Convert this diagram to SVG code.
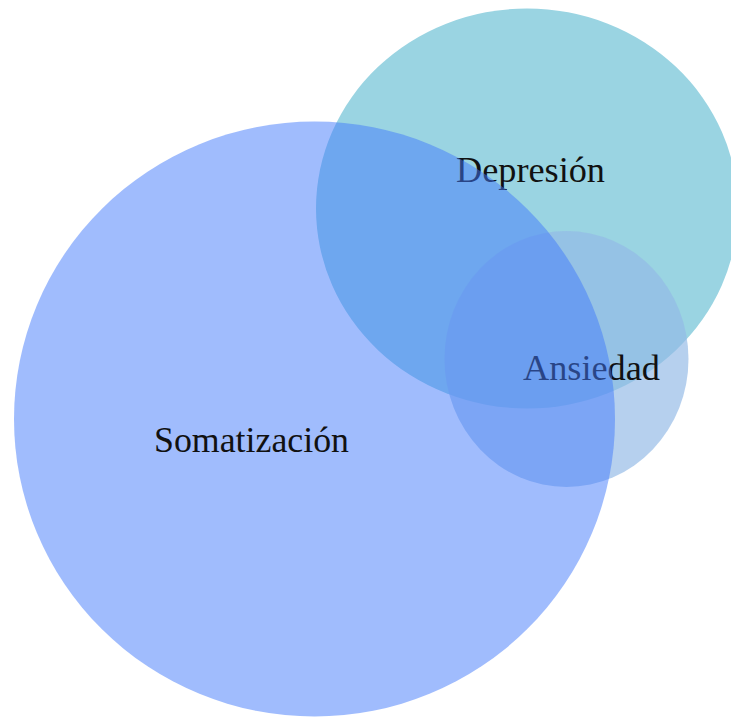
<svg xmlns="http://www.w3.org/2000/svg" width="731" height="717" viewBox="0 0 731 717">
  <style>
    .lbl { font-family: "Liberation Serif", "DejaVu Serif", serif; font-size: 35px; fill: #111111; }
  </style>
  <rect width="731" height="717" fill="#ffffff"/>
  <g id="depresion">
    <ellipse cx="527" cy="208.5" rx="211" ry="200" fill="#9ad4e2"/>
    <text class="lbl" x="456" y="182" textLength="149" lengthAdjust="spacingAndGlyphs">Depresión</text>
  </g>
  <g id="ansiedad">
    <ellipse cx="566.5" cy="359" rx="122" ry="128" fill="#94bae6" fill-opacity="0.68"/>
    <text class="lbl" x="523" y="380" textLength="137" lengthAdjust="spacingAndGlyphs">Ansiedad</text>
  </g>
  <g id="somatizacion">
    <ellipse cx="314.5" cy="419" rx="300.5" ry="297.5" fill="#4179fb" fill-opacity="0.5"/>
    <text class="lbl" x="154" y="452" textLength="195" lengthAdjust="spacingAndGlyphs">Somatización</text>
  </g>
</svg>
